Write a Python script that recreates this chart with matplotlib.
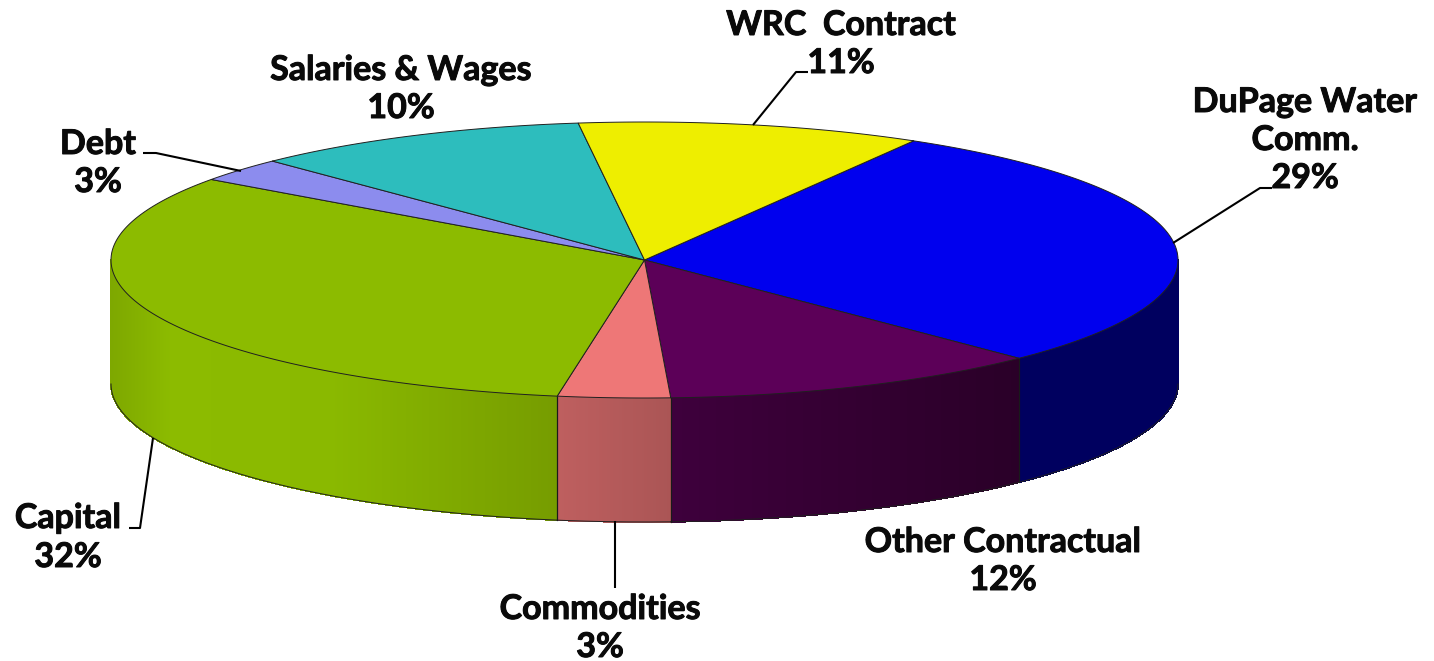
#!/usr/bin/env python3
"""3D-look budget pie, drawn in pixel coordinates of the 1434x661 figure."""
import numpy as np
import matplotlib
matplotlib.use("Agg")
import matplotlib.pyplot as plt
import matplotlib.patheffects as pe
from matplotlib.colors import to_rgb
from matplotlib.patches import Polygon
from matplotlib.collections import PolyCollection

# clockwise, starting at the WRC / DuPage boundary
categories = ["DuPage", "Other", "Commodities", "Capital", "Debt", "Salaries", "WRC"]
shares = [29.2, 11.6, 3.4, 32.3, 2.8, 10.3, 10.4]
top_colors = ["#0000EE", "#5C0058", "#EE7777", "#8CBB00", "#8C8CEE", "#2DBDBD", "#EEEE00"]

# side wall shading: x position across the figure -> colour
side_stops = {
    "DuPage": [(1019, "#00005F"), (1178, "#00005F")],
    "Other": [(672, "#3E003C"), (1019, "#2A0028")],
    "Commodities": [(558, "#BE5F5F"), (672, "#AA5555")],
    "Capital": [(111, "#7EA800"), (170, "#8CBB00"), (330, "#8AB900"), (558, "#769C00")],
}

labels = [
    ("WRC  Contract", 841, 25), ("11%", 841, 63),
    ("Salaries & Wages", 401, 70), ("10%", 401, 108),
    ("Debt", 98, 144), ("3%", 98, 182),
    ("DuPage Water", 1305, 102), ("Comm.", 1305, 140), ("29%", 1305, 178),
    ("Capital", 68, 518), ("32%", 68, 557),
    ("Commodities", 600, 609), ("3%", 600, 647),
    ("Other Contractual", 1003, 542), ("12%", 1003, 580),
]

leaders = [
    [(753, 125), (796, 72), (808, 72)],
    [(1173, 243), (1260, 188), (1272, 188)],
    [(143, 153), (156, 153), (241, 171)],
    [(153, 438), (140, 528), (129, 528)],
    [(615, 521), (615, 588)],
]

CX, CY = 644.5, 260
RX, RY = 533.5, 138
DEPTH = 124
START_DEG = 59.7


def rim(theta):
    return CX + RX * np.cos(theta), CY - RY * np.sin(theta)


fig = plt.figure(figsize=(14.34, 6.61), dpi=100)
ax = fig.add_axes([0, 0, 1, 1])
ax.set_xlim(0, 1434)
ax.set_ylim(661, 0)
ax.axis("off")

angles = START_DEG - np.concatenate([[0], np.cumsum(shares)]) * 3.6

# side walls first, only the front half (below the ellipse centre) shows
for i, name in enumerate(categories):
    hi, lo = angles[i], angles[i + 1]
    if name not in side_stops:
        continue
    hi_v, lo_v = min(hi, 0), max(lo, -180)
    th = np.radians(np.linspace(hi_v, lo_v, 300))
    xs, ys = rim(th)
    stops = side_stops[name]
    sx = [s[0] for s in stops]
    rgb = np.array([to_rgb(s[1]) for s in stops])
    quads, cols = [], []
    for j in range(len(th) - 1):
        quads.append([(xs[j], ys[j]), (xs[j + 1], ys[j + 1]),
                      (xs[j + 1], ys[j + 1] + DEPTH), (xs[j], ys[j] + DEPTH)])
        xm = (xs[j] + xs[j + 1]) / 2
        cols.append([np.interp(xm, sx, rgb[:, k]) for k in range(3)])
    # antialiasing off, otherwise the thin quads leave stripes
    ax.add_collection(PolyCollection(quads, facecolors=cols, edgecolors=cols, linewidths=0.6,
                                     antialiaseds=False, zorder=2))
    # bottom edge and dividing line
    ax.plot(xs, ys + DEPTH, color="#202020", lw=0.7, zorder=3)
    if hi < 0:
        ax.plot([xs[0], xs[0]], [ys[0], ys[0] + DEPTH], color="#1A1A1A", lw=0.8, zorder=3)
    if lo > -180:
        ax.plot([xs[-1], xs[-1]], [ys[-1], ys[-1] + DEPTH], color="#1A1A1A", lw=0.8, zorder=3)

# top face
for i, name in enumerate(categories):
    th = np.radians(np.linspace(angles[i], angles[i + 1], 200))
    xs, ys = rim(th)
    pts = np.column_stack([np.r_[CX, xs], np.r_[CY, ys]])
    ax.add_patch(Polygon(pts, closed=True, facecolor=top_colors[i], edgecolor="#202020",
                         linewidth=0.7, joinstyle="round", zorder=4))

for pts in leaders:
    px, py = zip(*pts)
    ax.plot(px, py, color="black", lw=1.5, solid_capstyle="butt", zorder=5)

# Lato bold is a bit light next to the original, thicken it slightly
heavy = [pe.withStroke(linewidth=0.7, foreground="#0A0A0A")]
for txt, x, y in labels:
    ax.text(x, y, txt, ha="center", va="center", family="Lato", weight="bold",
            fontsize=24.5, color="#0A0A0A", zorder=6, path_effects=heavy)

fig.savefig("out.png", dpi=100, facecolor="white")
plt.close(fig)
